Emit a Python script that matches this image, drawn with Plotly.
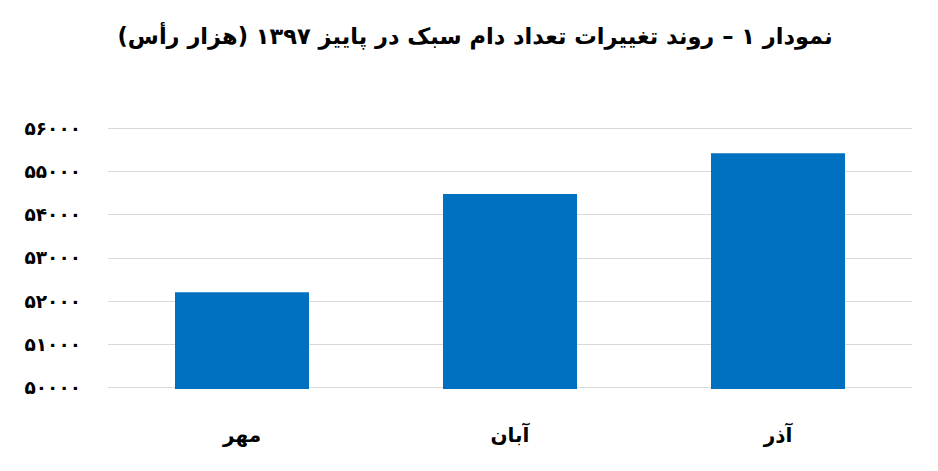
import plotly.graph_objects as go

# Data (thousand head)
months = ["مهر", "آبان", "آذر"]
values = [52210, 54480, 55420]
tick_values = [50000, 51000, 52000, 53000, 54000, 55000, 56000]

title_text = "نمودار ۱ – روند تغییرات تعداد دام سبک در پاییز ۱۳۹۷ (هزار رأس)"

PERSIAN_DIGITS = "۰۱۲۳۴۵۶۷۸۹"


def to_persian(n):
    """Write an integer with Persian digits."""
    return "".join(PERSIAN_DIGITS[int(c)] for c in str(n))


tick_text = ["<b>" + to_persian(v) + "</b>" for v in tick_values]

font_family = "DejaVu Sans, Noto Sans, sans-serif"

fig = go.Figure()
fig.add_trace(go.Bar(
    x=months,
    y=values,
    marker=dict(color="#0070c0", line=dict(width=0)),
    width=0.5,
))

# page body adds ~8px offset, margins compensate for it
fig.update_layout(
    width=938,
    height=471,
    paper_bgcolor="white",
    plot_bgcolor="white",
    margin=dict(l=100, r=34, t=119, b=90),
    showlegend=False,
    title=dict(
        text="<b>" + title_text + "</b>",
        x=0.498,
        xanchor="center",
        y=0.94,
        yanchor="middle",
        font=dict(family=font_family, size=22.5, color="black"),
    ),
    xaxis=dict(
        tickvals=months,
        ticktext=["<b>" + m + "</b>" for m in months],
        showgrid=False,
        showline=False,
        ticks="",
        tickfont=dict(family=font_family, size=20, color="black"),
        ticklabelstandoff=32,
    ),
    yaxis=dict(
        range=[49970, 56030],
        tickvals=tick_values,
        ticktext=tick_text,
        tickfont=dict(family=font_family, size=18.5, color="black"),
        showgrid=True,
        gridcolor="#d9d9d9",
        gridwidth=1,
        zeroline=False,
        showline=False,
        ticks="",
        ticklabelstandoff=26,
    ),
)

fig.write_html("out.html")
